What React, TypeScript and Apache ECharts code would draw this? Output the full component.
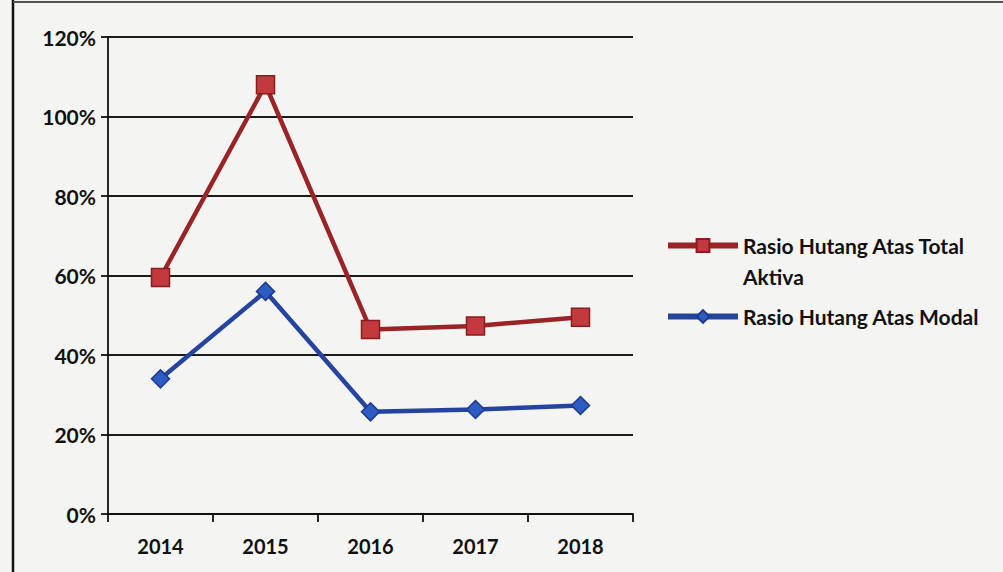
import React, { useEffect, useRef } from "react";
import * as echarts from "echarts";

const years = ["2014", "2015", "2016", "2017", "2018"];
const totalAktiva = [59.5, 108, 46.4, 47.3, 49.5];
const modal = [34, 56, 25.7, 26.3, 27.3];
const yTicks = { min: 0, max: 120, interval: 20 };
const nameAktiva = "Rasio Hutang Atas Total Aktiva";
const nameModal = "Rasio Hutang Atas Modal";

const FONT = "Lato, 'Open Sans', sans-serif";

export default function App() {
  const ref = useRef<HTMLDivElement>(null);
  useEffect(() => {
    const chart = echarts.init(ref.current!, null, { renderer: "svg" });
    const legendText = {
      color: "#111",
      fontFamily: FONT,
      fontWeight: "bold",
      fontSize: 21,
      lineHeight: 31,
    };
    chart.setOption({
      animation: false,
      backgroundColor: "#f4f4f2",
      grid: { left: 108, right: 370, top: 37, bottom: 58 },
      xAxis: {
        type: "category",
        data: years,
        boundaryGap: true,
        axisLine: { lineStyle: { color: "#111", width: 1.8 } },
        axisTick: { show: true, length: 8, inside: false, lineStyle: { color: "#111", width: 1.8 } },
        axisLabel: { color: "#111", fontFamily: FONT, fontWeight: "bold", fontSize: 20, margin: 22 },
      },
      yAxis: {
        type: "value",
        min: yTicks.min,
        max: yTicks.max,
        interval: yTicks.interval,
        axisLine: { show: true, lineStyle: { color: "#111", width: 1.8 } },
        axisTick: { show: true, length: 7, lineStyle: { color: "#111", width: 1.8 } },
        splitLine: { show: true, lineStyle: { color: "#1a1a1a", width: 1.8 } },
        axisLabel: {
          color: "#111",
          fontFamily: FONT,
          fontWeight: "bold",
          fontSize: 21,
          margin: 12,
          formatter: "{value}%",
        },
      },
      legend: [
        {
          data: [nameAktiva],
          orient: "vertical",
          left: 665,
          top: 199,
          padding: 0,
          itemWidth: 70,
          itemHeight: 16,
          lineStyle: { width: 6 },
          formatter: () => "\nRasio Hutang Atas Total\nAktiva",
          textStyle: legendText,
        },
        {
          data: [nameModal],
          orient: "vertical",
          left: 665,
          top: 301,
          padding: 0,
          itemWidth: 70,
          itemHeight: 16,
          lineStyle: { width: 6 },
          textStyle: legendText,
        },
      ],
      series: [
        {
          name: nameAktiva,
          type: "line",
          data: totalAktiva,
          symbol: "rect",
          symbolSize: 18,
          lineStyle: { color: "#9a2326", width: 4.5 },
          itemStyle: { color: "#c23a3d", borderColor: "#8a1c1f", borderWidth: 1.5 },
        },
        {
          name: nameModal,
          type: "line",
          data: modal,
          symbol: "diamond",
          symbolSize: 18,
          lineStyle: { color: "#2444a0", width: 4.5 },
          itemStyle: { color: "#2d5cc2", borderColor: "#1f3a8c", borderWidth: 1.5 },
        },
      ],
      graphic: [
        { type: "line", shape: { x1: 13, y1: 0, x2: 13, y2: 572 }, style: { stroke: "#111", lineWidth: 2.5 } },
        { type: "line", shape: { x1: 13, y1: 2, x2: 1003, y2: 2 }, style: { stroke: "#555", lineWidth: 2 } },
      ],
    });
    return () => chart.dispose();
  }, []);
  return (
    <div
      ref={ref}
      style={{ position: "absolute", left: 0, top: 0, width: 1003, height: 572 }}
    />
  );
}
